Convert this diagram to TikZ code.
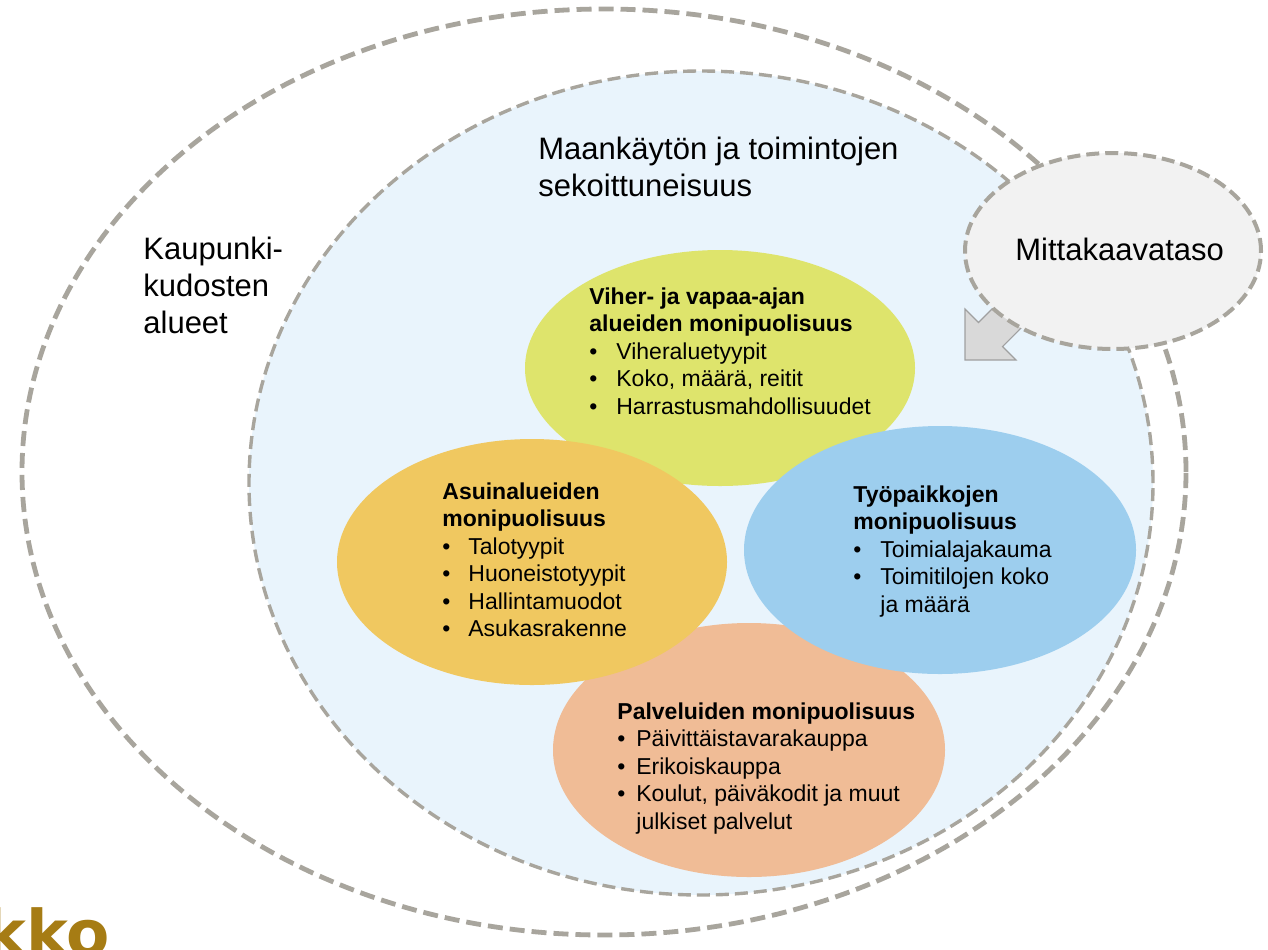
\documentclass[tikz,border=0pt]{standalone}
\usepackage{fontspec}
\setmainfont{Liberation Sans}
\newfontfamily\logofont{DejaVu Sans}
\usetikzlibrary{shapes.geometric}

\definecolor{dashgrey}{RGB}{168,165,157}
\definecolor{mixblue}{RGB}{233,244,252}
\definecolor{scalegrey}{RGB}{242,242,242}
\definecolor{arrowfill}{RGB}{217,217,217}
\definecolor{arrowedge}{RGB}{160,160,160}
\definecolor{greenzone}{RGB}{222,228,108}
\definecolor{housezone}{RGB}{240,200,96}
\definecolor{workzone}{RGB}{157,206,238}
\definecolor{servicezone}{RGB}{240,188,150}
\definecolor{logogold}{RGB}{166,124,20}

% bullet line and continuation line with a given text indent
\newcommand\li[2][13.5pt]{\makebox[#1][l]{\textbullet}#2}
\newcommand\lc[2][13.5pt]{\makebox[#1][l]{}#2}

\begin{document}
\begin{tikzpicture}[x=0.5pt,y=-0.5pt,
  zone/.style={ellipse, inner sep=0pt, draw=dashgrey},
  topic/.style={ellipse, inner sep=0pt, draw=none},
  % multi-line nodes: the base anchor sits on the last line
  lbl/.style={font=\fontsize{15.5pt}{18.5pt}\selectfont, align=left,
              inner sep=0pt, anchor=base west, text=black},
  blk/.style={font=\fontsize{11.5pt}{13.75pt}\selectfont, align=left,
              inner sep=0pt, anchor=base west, text=black}
]
\clip (0,0) rectangle (1268,949);
\fill[white] (0,0) rectangle (1268,949);

% urban fabric areas
\node[zone, line width=2.4pt, dash pattern=on 7.5pt off 3.5pt,
      minimum width=582pt, minimum height=463pt] (fabric) at (604,472) {};
% land use mix
\node[zone, fill=mixblue, line width=1.7pt, dash pattern=on 6.5pt off 3pt,
      minimum width=452pt, minimum height=412pt] (mix) at (701,483) {};

% the four diversity themes
\node[topic, fill=greenzone, minimum width=195pt, minimum height=118pt] (green) at (720,368) {};
\node[topic, fill=servicezone, minimum width=196pt, minimum height=127pt] (service) at (749,750) {};
\node[topic, fill=housezone, minimum width=195pt, minimum height=123pt] (house) at (532,562) {};
\node[topic, fill=workzone, minimum width=196pt, minimum height=124pt] (work) at (940,550) {};

% block arrow from the scale level
\coordinate (tip) at (965,360);
\draw[fill=arrowfill, draw=arrowedge, line width=0.6pt]
  (tip) -- (965,309) -- (978.4,322.5) -- (1037.8,263.2) -- (1061.8,287.2)
  -- (1002.5,346.6) -- (1015.9,360) -- cycle;

% scale level
\node[zone, fill=scalegrey, line width=2pt, dash pattern=on 6.5pt off 3pt,
      minimum width=148pt, minimum height=98pt] (scale) at (1113,251) {};

% labels
\node[lbl] (scaletxt) at (1015,260) {Mittakaavataso};
\node[lbl] (mixtxt) at (538,196) {Maankäytön ja toimintojen\\sekoittuneisuus};
\node[lbl] (fabrictxt) at (143,333) {Kaupunki-\\kudosten\\alueet};

\node[blk] (greentxt) at (589,414)
  {\textbf{Viher- ja vapaa-ajan}\\\textbf{alueiden monipuolisuus}\\
   \li{Viheraluetyypit}\\\li{Koko, määrä, reitit}\\\li{Harrastusmahdollisuudet}};
\node[blk] (housetxt) at (442,636.5)
  {\textbf{Asuinalueiden}\\\textbf{monipuolisuus}\\
   \li[13pt]{Talotyypit}\\\li[13pt]{Huoneistotyypit}\\\li[13pt]{Hallintamuodot}\\\li[13pt]{Asukasrakenne}};
\node[blk] (worktxt) at (853,612)
  {\textbf{Työpaikkojen}\\\textbf{monipuolisuus}\\
   \li{Toimialajakauma}\\\li{Toimitilojen koko}\\\lc{ja määrä}};
\node[blk] (servicetxt) at (617,829)
  {\textbf{Palveluiden monipuolisuus}\\
   \li[9.5pt]{Päivittäistavarakauppa}\\\li[9.5pt]{Erikoiskauppa}\\
   \li[9.5pt]{Koulut, päiväkodit ja muut}\\\lc[9.5pt]{julkiset palvelut}};

% corner logo fragment
\node[font=\logofont\bfseries\fontsize{31.5pt}{31.5pt}\selectfont, text=logogold,
      inner sep=0pt, anchor=base east] (logo) at (110,955) {kko};
\end{tikzpicture}
\end{document}
